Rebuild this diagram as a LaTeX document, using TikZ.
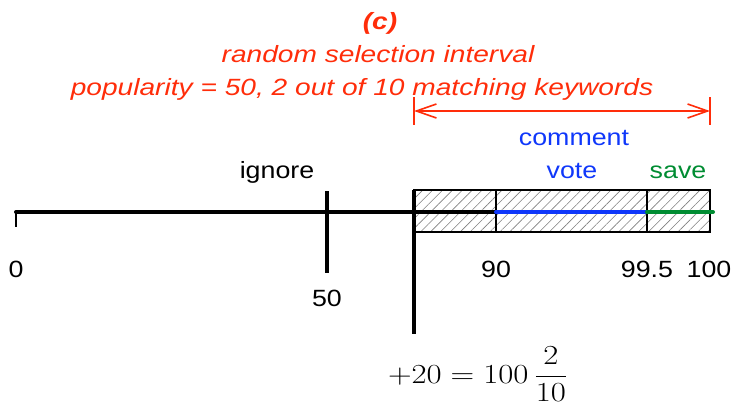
\documentclass[tikz,border=0pt]{standalone}
\usepackage{amsmath}
\usepackage{fontspec}
\newfontfamily\lsans{Liberation Sans}
\usetikzlibrary{arrows.meta,patterns.meta}
\definecolor{cred}{RGB}{255,45,10}
\definecolor{cblue}{RGB}{15,55,250}
\definecolor{cgreen}{RGB}{0,140,50}
\begin{document}
\begin{tikzpicture}[x=1pt,y=-1pt,
  lbl/.style={font=\lsans\fontsize{23.5}{28}\selectfont, anchor=base, inner sep=0pt, transform shape, xscale=1.14},
  ttl/.style={lbl, xscale=1.05, text=cred, font=\lsans\itshape\fontsize{23.5}{28}\selectfont},
  axisline/.style={line width=4pt, line cap=round},
  tickline/.style={line width=3.2pt},
  hatch/.style={pattern={Lines[angle=45,distance=7pt,line width=0.6pt]}, pattern color=gray},
  dimline/.style={cred, line width=1.6pt}
]
\useasboundingbox (0,0) rectangle (734,405);
% coordinates
\coordinate (a0) at (16,212);
\coordinate (a0d) at (16,227);
\coordinate (t50u) at (327,191);
\coordinate (t50d) at (327,273);
\coordinate (v20u) at (414,190);
\coordinate (v20d) at (414,334);
\coordinate (a90) at (496,212);
\coordinate (a995) at (647,212);
\coordinate (a100) at (713,212);
\coordinate (bl) at (414,190);
\coordinate (br) at (710,232);
\coordinate (d90u) at (496,190);
\coordinate (d90d) at (496,232);
\coordinate (d995u) at (647,190);
\coordinate (d995d) at (647,232);
% hatched box
\fill[white] (bl) rectangle (br);
\fill[hatch] (bl) rectangle (br);
\draw[line width=1.8pt] (bl) rectangle (br);
\draw[line width=1.8pt] (d90u) -- (d90d);
\draw[line width=1.8pt] (d995u) -- (d995d);
% axis
\draw[axisline] (a0) -- (a90);
\draw[line width=2pt] (a0) -- (a0d);
\draw[tickline] (t50u) -- (t50d);
\draw[tickline] (v20u) -- (v20d);
\draw[axisline, cblue] (a90) -- (a995);
\draw[axisline, cgreen] (a995) -- (a100);
% red dimension arrow
\coordinate (r1u) at (414,97);
\coordinate (r1d) at (414,125);
\coordinate (r2u) at (710,97);
\coordinate (r2d) at (710,125);
\coordinate (r1) at (414,111);
\coordinate (r2) at (710,111);
\draw[dimline] (r1u) -- (r1d);
\draw[dimline] (r2u) -- (r2d);
\draw[dimline, {Straight Barb[length=20pt,width=14pt,line width=1.6pt]}-{Straight Barb[length=20pt,width=14pt,line width=1.6pt]}] (r1) -- (r2);
% titles
\node[ttl, font=\lsans\bfseries\itshape\fontsize{23.5}{28}\selectfont] (tc) at (380,29) {(c)};
\node[ttl] (t1) at (378,62) {random selection interval};
\node[ttl] (t2) at (362,95) {popularity = 50, 2 out of 10 matching keywords};
% labels
\node[lbl] (ign) at (277,178) {ignore};
\node[lbl, text=cblue] (com) at (574,145) {comment};
\node[lbl, text=cblue] (vot) at (572,178) {vote};
\node[lbl, text=cgreen] (sav) at (678,178) {save};
\node[lbl] (l0) at (16,277) {0};
\node[lbl] (l50) at (327,306) {50};
\node[lbl] (l90) at (496,277) {90};
\node[lbl] (l995) at (647,277) {99.5};
\node[lbl] (l100) at (709,277) {100};
\node[anchor=base, inner sep=0pt, transform shape, xscale=1.58, yscale=1.33, font=\fontsize{20.74}{24}\selectfont] (eq) at (478,383) {$+20 = 100\,\dfrac{2}{10}$};
\end{tikzpicture}
\end{document}
